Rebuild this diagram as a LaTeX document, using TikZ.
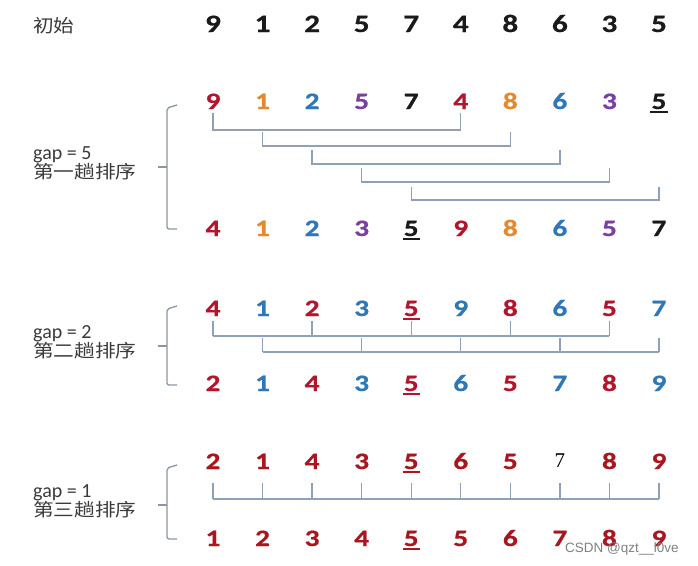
\documentclass[tikz,border=0pt]{standalone}
\usepackage{fontspec}
\setmainfont{Carlito}
\newfontfamily\cjk[FakeStretch=1.15]{Noto Sans CJK SC}
\newfontfamily\numfont[FakeStretch=1.25,FakeBold=0.6]{Carlito}
\newfontfamily\serifnum{Liberation Serif}
\newfontfamily\wmfont{Liberation Sans}
\definecolor{rd}{HTML}{B3162C}
\definecolor{dr}{HTML}{A8161F}
\definecolor{og}{HTML}{E38A2E}
\definecolor{bl}{HTML}{2F77B5}
\definecolor{pu}{HTML}{7B3FA0}
\definecolor{bk}{HTML}{1A1A1A}
\definecolor{lc}{HTML}{8FA1B6}
\definecolor{bc}{HTML}{8A96A3}
\definecolor{tx}{HTML}{3A3A3A}
\begin{document}
\begin{tikzpicture}[x=1pt,y=-1pt,
  num/.style={font=\numfont\bfseries\fontsize{23.5}{23.5}\selectfont, anchor=base, inner sep=0pt},
  bignum/.style={num, font=\numfont\bfseries\fontsize{25}{25}\selectfont},
  conn/.style={draw=lc, line width=1.3pt},
  brk/.style={draw=bc, line width=1.3pt, rounded corners=2pt},
  lbl/.style={font=\fontsize{20}{20}\selectfont, text=tx, anchor=base west, inner sep=0pt},
  clbl/.style={lbl, font=\cjk\fontsize{18}{18}\selectfont},
  ul/.style={line width=1.8pt}]
\useasboundingbox (0,0) rectangle (698,565);
\def\cx#1{{213+49.55*(#1-1)}}
% initial row
\node[clbl] (l0) at (33,32) {初始};
\foreach \d [count=\i] in {9,1,2,5,7,4,8,6,3,5}
  \node[bignum, text=bk] (i\i) at (\cx{\i},32) {\d};
% gap 5
\foreach \d/\c [count=\i] in {9/rd,1/og,2/bl,5/pu,7/bk,4/rd,8/og,6/bl,3/pu,5/bk}
  \node[num, text=\c] (a\i) at (\cx{\i},109) {\d};
\foreach \d/\c [count=\i] in {4/rd,1/og,2/bl,3/pu,5/bk,9/rd,8/og,6/bl,5/pu,7/bk}
  \node[num, text=\c] (b\i) at (\cx{\i},236) {\d};
\draw[ul,bk] ([xshift=-1pt,yshift=-3pt]a10.south west) -- ([xshift=1pt,yshift=-3pt]a10.south east);
\draw[ul,bk] ([xshift=-1pt,yshift=-3pt]b5.south west) -- ([xshift=1pt,yshift=-3pt]b5.south east);
\foreach \l/\h/\t in {1/130/113,2/146/132,3/164/150,4/182/168,5/200/187}{
  \pgfmathtruncatemacro\r{\l+5}
  \draw[conn] (a\l |- 0,\t) -- (a\l |- 0,\h) -- (a\r |- 0,\h) -- (a\r |- 0,\t);
}
\draw[brk] (177,105) -- (167,108) -- (167,229) -- (177,229);
\draw[brk] (167,167) -- (158,167);
\node[lbl] (g5) at (33,159) {gap = 5};
\node[clbl] (s5) at (33,178) {第一趟排序};
% gap 2
\foreach \d/\c [count=\i] in {4/rd,1/bl,2/rd,3/bl,5/rd,9/bl,8/rd,6/bl,5/rd,7/bl}
  \node[num, text=\c] (c\i) at (\cx{\i},316) {\d};
\foreach \d/\c [count=\i] in {2/rd,1/bl,4/rd,3/bl,5/rd,6/bl,5/rd,7/bl,8/rd,9/bl}
  \node[num, text=\c] (d\i) at (\cx{\i},391) {\d};
\draw[ul,rd] ([xshift=-1pt,yshift=-3pt]c5.south west) -- ([xshift=1pt,yshift=-3pt]c5.south east);
\draw[ul,rd] ([xshift=-1pt,yshift=-3pt]d5.south west) -- ([xshift=1pt,yshift=-3pt]d5.south east);
\draw[conn] (c1 |- 0,336) -- (c9 |- 0,336);
\foreach \k in {1,3,5,7,9} \draw[conn] (c\k |- 0,321) -- (c\k |- 0,336);
\draw[conn] (c2 |- 0,352) -- (c10 |- 0,352);
\foreach \k in {2,4,6,8,10} \draw[conn] (c\k |- 0,338) -- (c\k |- 0,352);
\draw[brk] (177,306) -- (167,309) -- (167,385) -- (177,385);
\draw[brk] (167,346) -- (158,346);
\node[lbl] (g2) at (33,338) {gap = 2};
\node[clbl] (s2) at (33,357) {第二趟排序};
% gap 1
\foreach \d [count=\i] in {2,1,4,3,5,6,5}
  \node[num, text=dr] (e\i) at (\cx{\i},469) {\d};
\node[anchor=base, inner sep=0pt, font=\serifnum\fontsize{21}{21}\selectfont, text=black] (e8) at (\cx{8},467) {7};
\node[num, text=dr] (e9) at (\cx{9},469) {8};
\node[num, text=dr] (e10) at (\cx{10},469) {9};
\foreach \d [count=\i] in {1,2,3,4,5,5,6,7,8,9}
  \node[num, text=dr] (f\i) at (\cx{\i},546) {\d};
\draw[ul,dr] ([xshift=-1pt,yshift=-3pt]e5.south west) -- ([xshift=1pt,yshift=-3pt]e5.south east);
\draw[ul,dr] ([xshift=-1pt,yshift=-3pt]f5.south west) -- ([xshift=1pt,yshift=-3pt]f5.south east);
\draw[conn] (e1 |- 0,499) -- (e10 |- 0,499);
\foreach \k in {1,...,10} \draw[conn] (e\k |- 0,483) -- (e\k |- 0,499);
\draw[brk] (177,465) -- (167,468) -- (167,539) -- (177,539);
\draw[brk] (167,505) -- (158,505);
\node[lbl] (g1) at (33,497) {gap = 1};
\node[clbl] (s1) at (33,516) {第三趟排序};
% watermark
\node[anchor=base west, inner sep=0pt, font=\wmfont\fontsize{13.5}{14}\selectfont, text=gray] (wm) at (565,552) {CSDN @qzt\_\_l0ve};
\end{tikzpicture}
\end{document}
